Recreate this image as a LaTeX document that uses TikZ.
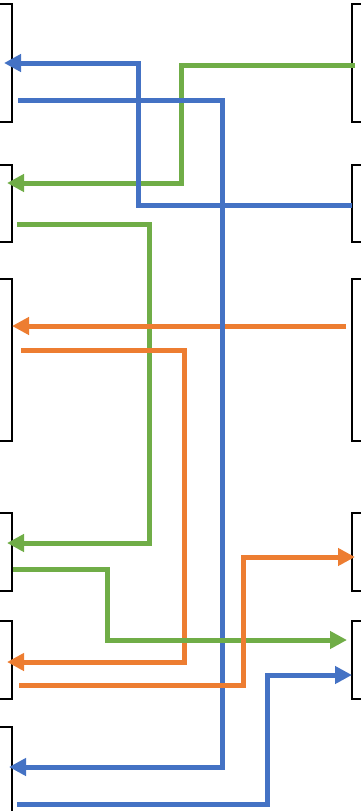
\documentclass[tikz,border=0pt]{standalone}
\usetikzlibrary{arrows.meta}
\definecolor{cblue}{HTML}{4472C4}
\definecolor{cgreen}{HTML}{70AD47}
\definecolor{corange}{HTML}{ED7D31}
\begin{document}
\begin{tikzpicture}[x=1pt,y=-1pt,
  brk/.style={draw=black,line width=2pt},
  conn/.style={line width=5pt,-{Triangle[length=17pt,width=17pt]}},
  plain/.style={line width=5pt}]
\useasboundingbox (0,0) rectangle (361,811);
% left brackets
\draw[brk] (0,4) -- (12,4) -- (12,122) -- (0,122);
\draw[brk] (0,165) -- (12,165) -- (12,242) -- (0,242);
\draw[brk] (0,279) -- (12,279) -- (12,441) -- (0,441);
\draw[brk] (0,513) -- (12,513) -- (12,591) -- (0,591);
\draw[brk] (0,621) -- (12,621) -- (12,699) -- (0,699);
\draw[brk] (0,727) -- (12,727) -- (12,815);
% right brackets
\draw[brk] (361,4) -- (352,4) -- (352,122) -- (361,122);
\draw[brk] (361,165) -- (352,165) -- (352,242) -- (361,242);
\draw[brk] (361,279) -- (352,279) -- (352,441) -- (361,441);
\draw[brk] (361,513) -- (352,513) -- (352,591) -- (361,591);
\draw[brk] (361,621) -- (352,621) -- (352,699) -- (361,699);
% endpoints
\coordinate (b1s) at (352,205); \coordinate (b1e) at (4,63);
\coordinate (b2s) at (18,100);  \coordinate (b2e) at (9,767);
\coordinate (g1s) at (355,65);  \coordinate (g1e) at (7,183);
\coordinate (g2s) at (17,224);  \coordinate (g2e) at (7,543);
\coordinate (o1s) at (346,326); \coordinate (o1e) at (12,326);
\coordinate (o2s) at (21,350);  \coordinate (o2e) at (7,662);
\coordinate (g3s) at (13,569);  \coordinate (g3e) at (347,640);
\coordinate (o3s) at (19,685);  \coordinate (o3e) at (355,557);
\coordinate (b3s) at (17,804);  \coordinate (b3e) at (352,675);
% connectors
\draw[conn,cgreen] (g1s) -- (181,65) -- (181,183) -- (g1e);
\draw[conn,cgreen] (g2s) -- (149,224) -- (149,543) -- (g2e);
\draw[conn,corange] (o1s) -- (o1e);
\draw[conn,corange] (o2s) -- (184,350) -- (184,662) -- (o2e);
\draw[conn,cblue] (b1s) -- (138,205) -- (138,63) -- (b1e);
\draw[conn,cblue] (b2s) -- (222,100) -- (222,767) -- (b2e);
\draw[conn,cgreen] (g3s) -- (107,569) -- (107,640) -- (g3e);
\draw[conn,corange] (o3s) -- (243,685) -- (243,557) -- (o3e);
\draw[conn,cblue] (b3s) -- (267,804) -- (267,675) -- (b3e);
\end{tikzpicture}
\end{document}
